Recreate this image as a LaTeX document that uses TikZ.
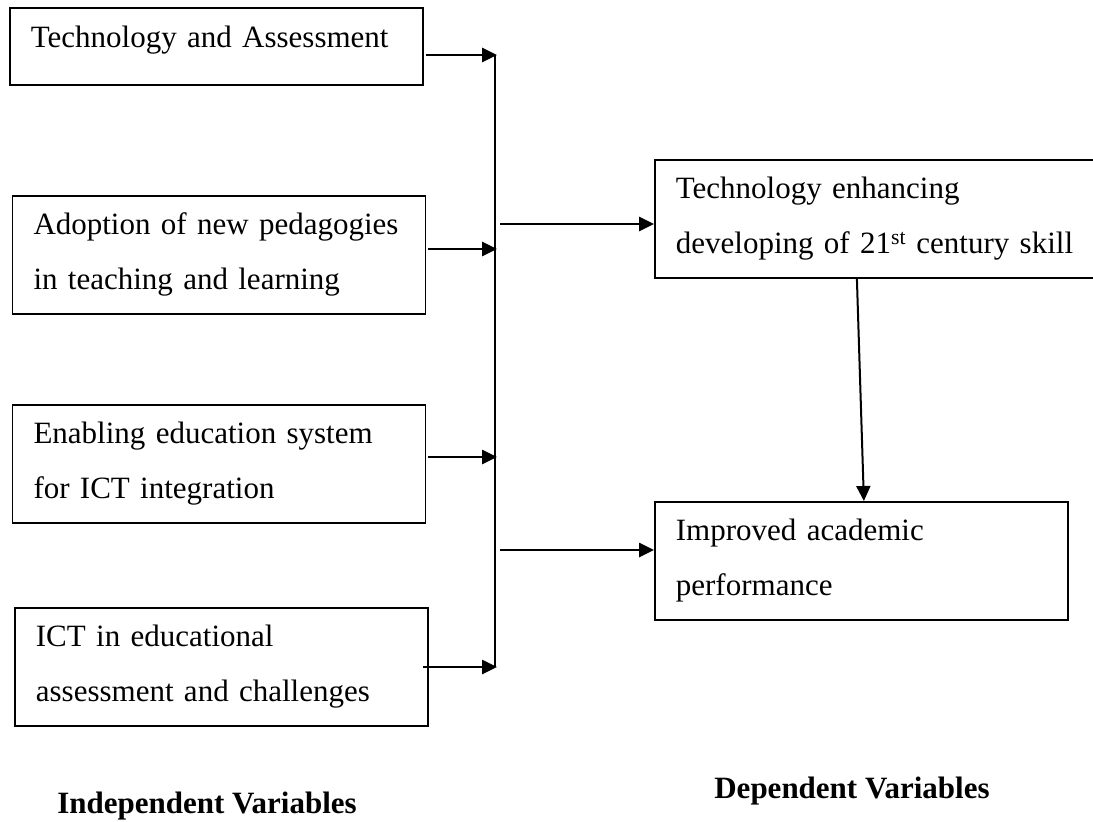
\documentclass[tikz,border=0pt]{standalone}
\usepackage{fontspec}
\setmainfont{Liberation Serif}
\usetikzlibrary{arrows.meta}
\begin{document}
\begin{tikzpicture}[x=1pt,y=-1pt,->,>={Triangle[length=15pt,width=14pt]},line width=2.6pt,
  box/.style={draw,rectangle,line width=1.8pt,anchor=north west,align=left,text width=371pt,inner xsep=21pt,inner ysep=0pt,minimum width=413pt,minimum height=118pt,font=\fontsize{31}{55}\selectfont},
  head/.style={font=\fontsize{31}{37}\selectfont\bfseries,anchor=base}]
\useasboundingbox[fill=white] (0,0) rectangle (1093,822);
\node[box,minimum height=77pt,text height=21pt,text depth=18pt] (TA) at (9,7) {Technology and Assessment};
\node[box] (AP) at (11.6,195) {Adoption of new pedagogies\\in teaching and learning};
\node[box] (EE) at (11.6,404) {Enabling education system\\for ICT integration};
\node[box] (IA) at (14,607) {ICT in educational\\assessment and challenges};
\node[box,text width=418pt,minimum width=460pt] (TE) at (654,159) {Technology enhancing\\developing of 21\textsuperscript{st} century skill};
\node[box] (IP) at (654,501) {Improved academic\\performance};
\node[head] (IV) at (207,813) {Independent Variables};
\node[head] (DV) at (852,798) {Dependent Variables};
\coordinate (b1) at (497,55);
\coordinate (b2) at (497,249);
\coordinate (b3) at (497,457);
\coordinate (b4) at (497,667);
\coordinate (r1) at (500,224);
\coordinate (r2) at (500,550);
\draw[-,line width=1.8pt] ([xshift=-2pt]b1) -- ([xshift=-2pt]b4);
\draw ([xshift=2pt]TA.east |- b1) -- (b1);
\draw ([xshift=2pt]AP.east |- b2) -- (b2);
\draw ([xshift=2pt]EE.east |- b3) -- (b3);
\draw ([xshift=-6pt]IA.east |- b4) -- (b4);
\draw (r1) -- (TE.west |- r1);
\draw (r2) -- (IP.west |- r2);
\draw[line width=2pt] ([xshift=-28pt]TE.south) -- ([xshift=2.5pt]IP.north);
\end{tikzpicture}
\end{document}
